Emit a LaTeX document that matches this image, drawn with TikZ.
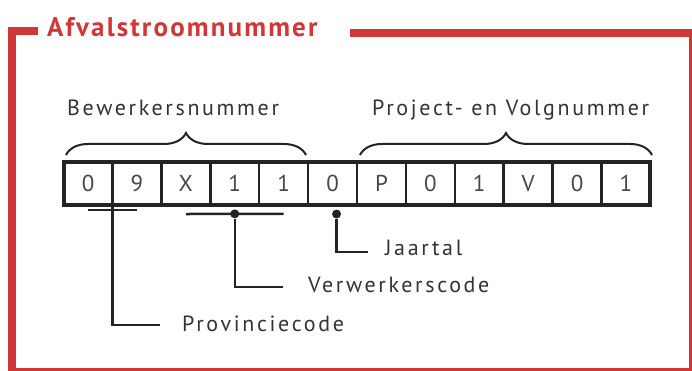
\documentclass[tikz,border=0pt]{standalone}
\usepackage{fontspec}
\setmainfont{PT Sans}[LetterSpace=12]
\newfontfamily\titelfont{PT Sans}[LetterSpace=8]
\usetikzlibrary{matrix,decorations.pathreplacing,positioning}
\definecolor{afvalred}{RGB}{208,56,56}
\definecolor{inkt}{RGB}{35,35,35}

\begin{document}
\begin{tikzpicture}[x=1pt,y=-1pt,line cap=butt]
    \tikzstyle{cell}=[draw=inkt,line width=2.5pt,outer sep=0pt,inner sep=0pt,minimum width=48.9pt,minimum height=43pt,text=black!72,font=\fontsize{23}{24}\selectfont]
    \tikzstyle{lbl}=[anchor=base west,inner sep=0pt,text=black!80,font=\fontsize{22}{26}\selectfont]
    \tikzstyle{lead}=[draw=inkt,line width=2.5pt]
    \tikzstyle{pin}=[circle,fill=inkt,inner sep=0pt,minimum size=9pt]
    \tikzstyle{bracket}=[draw=inkt,line width=2pt,decorate,decoration={brace,amplitude=22pt}]
    \useasboundingbox (0,0) rectangle (692,371);

    % rode kader
    \begin{scope}[afvalred]
      \draw[line width=8pt] (12,371) -- (12,31) -- (38,31);
      \draw[line width=8pt] (350,33.5) -- (692,33.5);
      \draw[line width=7pt] (692,33.5) -- (692,371) -- (12,371);
      \node[anchor=base west,inner sep=0pt,font=\titelfont\fontsize{27}{30}\selectfont\bfseries] (titel) at (47,37) {Afvalstroomnummer};
    \end{scope}

    % de code zelf
    \matrix (code) [matrix of nodes,nodes={cell},column sep=-2.5pt] at (357,183.5)
      {0 & 9 & X & 1 & 1 & 0 & P & 0 & 1 & V & 0 & 1\\};
    \draw[inkt,line width=4pt] (code-1-1.north west) rectangle (code-1-12.south east);

    % accolades
    \draw[bracket] (66,155) -- (306,155);
    \draw[bracket] (360,155) -- (652,155);
    \node[lbl] (bewerker) at (67,116) {Bewerkersnummer};
    \node[lbl] (volg) at (372,116) {Project- en Volgnummer};

    % provinciecode
    \draw[lead] ([yshift=-5pt]code-1-1.south) -- ([yshift=-5pt]code-1-2.south);
    \coordinate (provend) at (160,325);
    \node[lbl] (prov) at (182,331) {Provinciecode};
    \draw[lead] (code-1-1.south east) |- (provend);

    % verwerkerscode
    \draw[lead] ([yshift=-9pt]code-1-3.south) -- ([yshift=-9pt]code-1-5.south);
    \node[pin] (verwpin) at ([yshift=-9pt]code-1-4.south) {};
    \coordinate (verwend) at (283,287);
    \node[lbl] (verw) at (308,292) {Verwerkerscode};
    \draw[lead] (verwpin) |- (verwend);

    % jaartal
    \node[pin] (jaarpin) at ([xshift=4pt,yshift=-9pt]code-1-6.south) {};
    \coordinate (jaarend) at (368,252);
    \node[lbl] (jaar) at (385,255) {Jaartal};
    \draw[lead] (jaarpin) |- (jaarend);
\end{tikzpicture}
\end{document}
